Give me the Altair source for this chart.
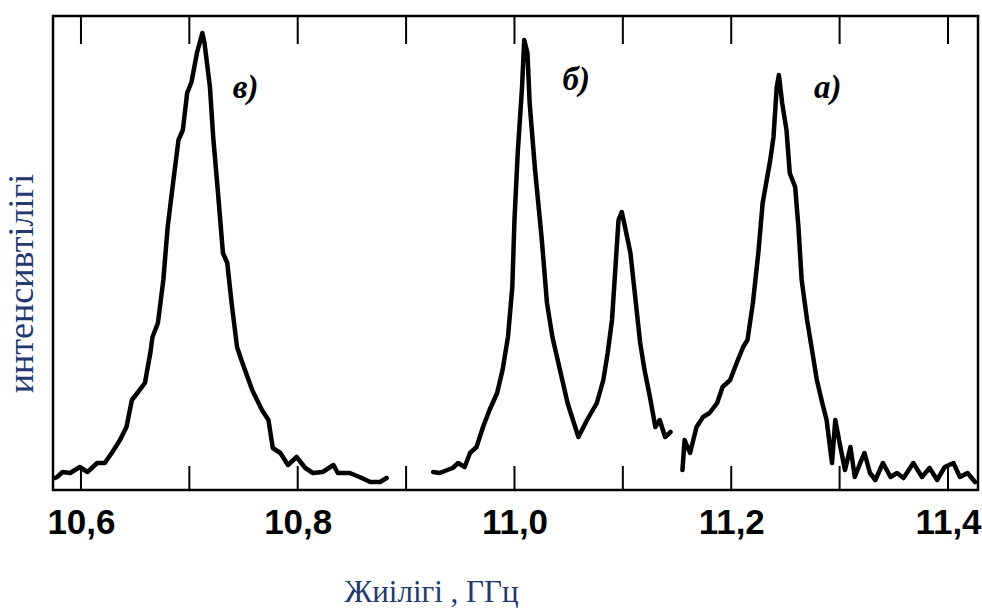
import altair as alt
import pandas as pd

# Curve "в)"
freq_v = [10.576, 10.578, 10.583, 10.590, 10.599, 10.606, 10.615, 10.622, 10.629, 10.636,
          10.642, 10.647, 10.652, 10.659, 10.664, 10.666, 10.671, 10.676, 10.680, 10.685,
          10.690, 10.694, 10.698, 10.702, 10.707, 10.712, 10.714, 10.719, 10.722, 10.726,
          10.731, 10.735, 10.739, 10.744, 10.749, 10.758, 10.767, 10.773, 10.777, 10.784,
          10.791, 10.799, 10.807, 10.814, 10.823, 10.833, 10.837, 10.848, 10.857, 10.867,
          10.876, 10.882]
int_v = [12, 13, 18, 17, 23, 18, 27, 27, 38, 50,
         63, 90, 97, 107, 137, 153, 167, 210, 263, 307,
         350, 360, 397, 408, 437, 457, 447, 403, 353, 303,
         237, 227, 187, 143, 127, 100, 80, 70, 42, 37,
         25, 33, 22, 17, 18, 25, 17, 17, 13, 8,
         8, 12]

# Curve "б)"
freq_b = [10.925, 10.931, 10.938, 10.943, 10.948, 10.954, 10.959, 10.965, 10.971, 10.977,
          10.984, 10.989, 10.994, 10.998, 11.000, 11.003, 11.007, 11.009, 11.012, 11.014,
          11.019, 11.025, 11.030, 11.035, 11.042, 11.049, 11.051, 11.059, 11.067, 11.076,
          11.082, 11.086, 11.090, 11.093, 11.096, 11.099, 11.102, 11.107, 11.111, 11.116,
          11.120, 11.125, 11.130, 11.134, 11.139, 11.144]
int_b = [18, 17, 20, 22, 27, 23, 37, 43, 63, 80,
         97, 120, 153, 203, 270, 337, 403, 450, 437, 387,
         320, 253, 187, 153, 120, 87, 80, 53, 70, 87,
         110, 137, 170, 220, 270, 278, 263, 237, 197, 147,
         120, 93, 63, 70, 53, 58]

# Curve "а)"
freq_a = [11.155, 11.157, 11.162, 11.168, 11.174, 11.180, 11.187, 11.192, 11.199, 11.205,
          11.211, 11.215, 11.220, 11.225, 11.229, 11.236, 11.239, 11.242, 11.244, 11.247,
          11.251, 11.254, 11.259, 11.262, 11.265, 11.270, 11.275, 11.279, 11.284, 11.288,
          11.293, 11.296, 11.300, 11.305, 11.310, 11.314, 11.319, 11.323, 11.328, 11.333,
          11.340, 11.347, 11.353, 11.359, 11.368, 11.376, 11.383, 11.390, 11.397, 11.405,
          11.411, 11.418, 11.425]
int_a = [20, 50, 37, 63, 73, 77, 87, 103, 110, 127,
         143, 150, 187, 237, 287, 330, 353, 403, 415, 387,
         360, 317, 303, 263, 210, 170, 137, 110, 87, 70,
         27, 70, 47, 20, 43, 13, 27, 37, 17, 10,
         27, 13, 17, 12, 27, 13, 22, 10, 23, 27,
         13, 17, 8]

peak_labels = ["в)", "б)", "а)"]
peak_label_freq = [10.752, 11.057, 11.289]
peak_label_int = [402, 410, 402]

tick_values = [10.6, 10.7, 10.8, 10.9, 11.0, 11.1, 11.2, 11.3, 11.4]
label_values = [10.6, 10.8, 11.0, 11.2, 11.4]

x_domain = [10.5742, 11.4277]
y_domain = [0, 474]

rows = []
for name, fs, vs in (("v", freq_v, int_v), ("b", freq_b, int_b), ("a", freq_a, int_a)):
    for i, (f, v) in enumerate(zip(fs, vs)):
        rows.append({"seg": name, "idx": i, "freq": f, "intensity": v})
curves = pd.DataFrame(rows)
labels_df = pd.DataFrame({"text": peak_labels, "freq": peak_label_freq, "intensity": peak_label_int})
ticks_df = pd.DataFrame({"freq": tick_values})

title_color = "#22386f"

x_scale = alt.Scale(domain=x_domain, nice=False, zero=False)
y_scale = alt.Scale(domain=y_domain, nice=False, zero=False)

x_axis = alt.Axis(
    values=label_values,
    labelExpr="replace(format(datum.value, '.1f'), '.', ',')",
    labelFont="Liberation Sans", labelFontWeight="bold", labelFontSize=35,
    labelColor="black", labelPadding=15,
    ticks=False, tickSize=0, domain=False, grid=False,
    title="Жиілігі , ГГц", titleFont="Liberation Serif", titleFontWeight="normal",
    titleFontSize=31, titleColor=title_color, titleX=378, titleY=111,
    titleAlign="center", titleBaseline="alphabetic",
)
y_axis = alt.Axis(
    labels=False, ticks=False, domain=False, grid=False,
    title="интенсивтілігі", titleFont="Liberation Serif", titleFontWeight="normal",
    titleFontSize=36, titleColor=title_color, titleAngle=270,
    titleX=-21, titleY=267, titleAlign="center", titleBaseline="alphabetic",
)

lines = alt.Chart(curves).mark_line(color="black", strokeWidth=4.5, strokeJoin="round", strokeCap="round").encode(
    x=alt.X("freq:Q", scale=x_scale, axis=x_axis),
    y=alt.Y("intensity:Q", scale=y_scale, axis=y_axis),
    detail="seg:N",
    order="idx:Q",
)

bottom_ticks = alt.Chart(ticks_df).mark_rule(color="black", strokeWidth=2).encode(
    x=alt.X("freq:Q", scale=x_scale),
    y=alt.value(474), y2=alt.value(450),
)
top_ticks = alt.Chart(ticks_df).mark_rule(color="black", strokeWidth=2).encode(
    x=alt.X("freq:Q", scale=x_scale),
    y=alt.value(0), y2=alt.value(28),
)

peak_text = alt.Chart(labels_df).mark_text(
    font="Liberation Serif", fontStyle="italic", fontWeight="bold", fontSize=33, color="black",
    align="center", baseline="middle",
).encode(
    x=alt.X("freq:Q", scale=x_scale),
    y=alt.Y("intensity:Q", scale=y_scale),
    text="text:N",
)

chart = alt.layer(bottom_ticks, top_ticks, lines, peak_text).properties(
    width=925, height=474,
    autosize=alt.AutoSizeParams(type="none"),
    padding={"left": 53, "top": 16, "right": 4, "bottom": 121},
    background="white",
).configure_view(stroke="black", strokeWidth=2.5)

chart.save("out.html", embed_options={"renderer": "svg", "actions": False})
